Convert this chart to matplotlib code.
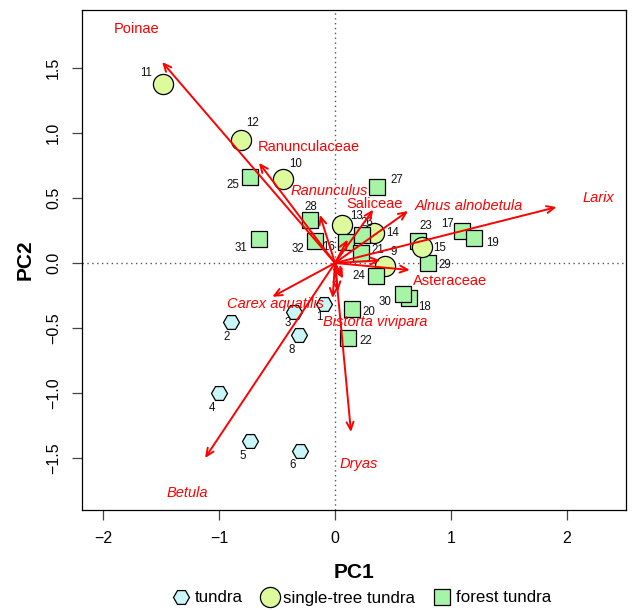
import matplotlib
matplotlib.use('Agg')
import matplotlib.pyplot as plt
from matplotlib.lines import Line2D

plt.rcParams['font.family'] = ['Liberation Sans', 'DejaVu Sans']

# sample scores (PC1, PC2) per vegetation zone
tundra_ids = [1, 2, 3, 4, 5, 6, 8]
tundra_pc1 = [-0.095, -0.897, -0.353, -1.00, -0.733, -0.30, -0.31]
tundra_pc2 = [-0.315, -0.454, -0.377, -1.00, -1.37, -1.45, -0.554]

single_ids = [9, 10, 11, 12, 13, 14, 15]
single_pc1 = [0.43, -0.448, -1.483, -0.81, 0.06, 0.336, 0.75]
single_pc2 = [-0.02, 0.646, 1.377, 0.946, 0.29, 0.23, 0.12]

forest_ids = [16, 17, 18, 19, 20, 21, 22, 23, 24, 25, 26, 27, 28, 29, 30, 31, 32]
forest_pc1 = [0.095, 1.095, 0.638, 1.20, 0.147, 0.225, 0.11, 0.716, 0.353,
              -0.733, 0.233, 0.362, -0.215, 0.80, 0.586, -0.655, -0.17]
forest_pc2 = [0.16, 0.246, -0.27, 0.19, -0.356, 0.077, -0.58, 0.17, -0.10,
              0.66, 0.215, 0.585, 0.33, 0.0, -0.24, 0.185, 0.17]

# taxon loadings (arrow tips) and where their names sit
taxa = ['Poinae', 'Ranunculaceae', 'Ranunculus', 'Saliceae', 'Alnus alnobetula',
        'Larix', 'Asteraceae', 'Carex aquatilis', 'Bistorta vivipara', 'Dryas',
        'Betula', '', '', '', '', '']
taxa_pc1 = [-1.49, -0.655, -0.13, 0.33, 0.63, 1.91, 0.645, -0.54, -0.02, 0.138,
            -1.12, 0.11, 0.39, 0.025, 0.05, 0.07]
taxa_pc2 = [1.546, 0.77, 0.37, 0.41, 0.40, 0.43, -0.054, -0.26, -0.27, -1.30,
            -1.50, 0.18, 0.02, -0.22, -0.11, -0.12]
taxa_lab_x = [-1.707, -0.224, -0.05, 0.345, 1.155, 2.27, 0.99, -0.517, 0.345, 0.207,
              -1.27, 0, 0, 0, 0, 0]
taxa_lab_y = [1.80, 0.89, 0.55, 0.454, 0.44, 0.50, -0.14, -0.315, -0.454, -1.546,
              -1.77, 0, 0, 0, 0, 0]
taxa_italic = [False, False, True, False, True, True, False, True, True, True,
               True, False, False, False, False, False]

# offsets of the sample numbers from their symbols, in pixels
label_offsets = {
    1: (-5, -13), 2: (-4, -15), 3: (-6, -11), 4: (-7, -15), 5: (-7, -15),
    6: (-8, -14), 8: (-7, -15), 9: (9, 14), 10: (13, 15), 11: (-17, 11),
    12: (12, 17), 13: (15, 9), 14: (19, 0), 15: (18, -1), 16: (-17, -5),
    17: (-14, 7), 18: (16, -9), 19: (18, -5), 20: (17, -3), 21: (17, 3),
    22: (18, -3), 23: (8, 15), 24: (-17, 0), 25: (-17, -8), 26: (5, 12),
    27: (20, 7), 28: (1, 13), 29: (17, -2), 30: (-18, -8), 31: (-18, -9),
    32: (-17, -8),
}

styles = {
    'tundra': dict(marker='H', ms=11.5, mfc='#c9f6f6'),
    'single': dict(marker='o', ms=14.5, mfc='#ddfa9c'),
    'forest': dict(marker='s', ms=12, mfc='#a6f5a6'),
}

fig = plt.figure(figsize=(6.38, 6.10), dpi=100)
ax = fig.add_axes([82 / 638, 100 / 610, 544 / 638, 500 / 610])
ax.set_xlim(-2.181, 2.509)
ax.set_ylim(-1.90, 1.946)

ax.axhline(0, color='#555555', ls=(0, (1, 2.5)), lw=1, zorder=1)
ax.axvline(0, color='#555555', ls=(0, (1, 2.5)), lw=1, zorder=1)

# all samples, drawn in sample order
samples = []
for ids, xs, ys, kind in [(tundra_ids, tundra_pc1, tundra_pc2, 'tundra'),
                          (single_ids, single_pc1, single_pc2, 'single'),
                          (forest_ids, forest_pc1, forest_pc2, 'forest')]:
    for i, x, y in zip(ids, xs, ys):
        samples.append((i, x, y, kind))
samples.sort()

for i, x, y, kind in samples:
    z = 4 if i == 15 else 3
    ax.plot(x, y, ls='', mec='black', mew=0.9, zorder=z, **styles[kind])
    dx, dy = label_offsets[i]
    ax.annotate(str(i), (x, y), xytext=(dx, dy), textcoords='offset pixels',
                ha='center', va='center', fontsize=8.3, color='#111111', zorder=5)

# loading arrows
for name, x, y, lx, ly, it in zip(taxa, taxa_pc1, taxa_pc2, taxa_lab_x, taxa_lab_y, taxa_italic):
    ax.annotate('', xy=(x, y), xytext=(0, 0),
                arrowprops=dict(arrowstyle='->,head_length=0.55,head_width=0.25',
                                color='red', lw=1.4, shrinkA=0, shrinkB=0),
                zorder=6)
    if name:
        ax.text(lx, ly, name, color='red', fontsize=10.5, ha='center', va='center',
                style='italic' if it else 'normal', zorder=7)

ax.set_xticks([-2, -1, 0, 1, 2])
ax.set_yticks([-1.5, -1.0, -0.5, 0.0, 0.5, 1.0, 1.5])
ax.set_xticklabels(['\u22122', '\u22121', '0', '1', '2'])
ax.set_yticklabels(['\u22121.5', '\u22121.0', '\u22120.5', '0.0', '0.5', '1.0', '1.5'],
                   rotation=90, va='center')
ax.tick_params(length=7, width=0.9, color='#444444', labelsize=11.5, pad=8)
for s in ax.spines.values():
    s.set_linewidth(0.9)

ax.set_xlabel('PC1', fontsize=15, fontweight='bold', labelpad=12)
ax.set_ylabel('PC2', fontsize=15, fontweight='bold', labelpad=8)

handles = [Line2D([], [], ls='', mec='black', mew=0.9, **styles[k])
           for k in ['tundra', 'single', 'forest']]
fig.legend(handles, ['tundra', 'single-tree tundra', 'forest tundra'],
           loc='center', bbox_to_anchor=(361 / 638, 12 / 610), ncol=3,
           frameon=False, fontsize=12.2, handletextpad=0.2, columnspacing=1.0,
           handlelength=1.2)

fig.savefig('out.png', dpi=100)
